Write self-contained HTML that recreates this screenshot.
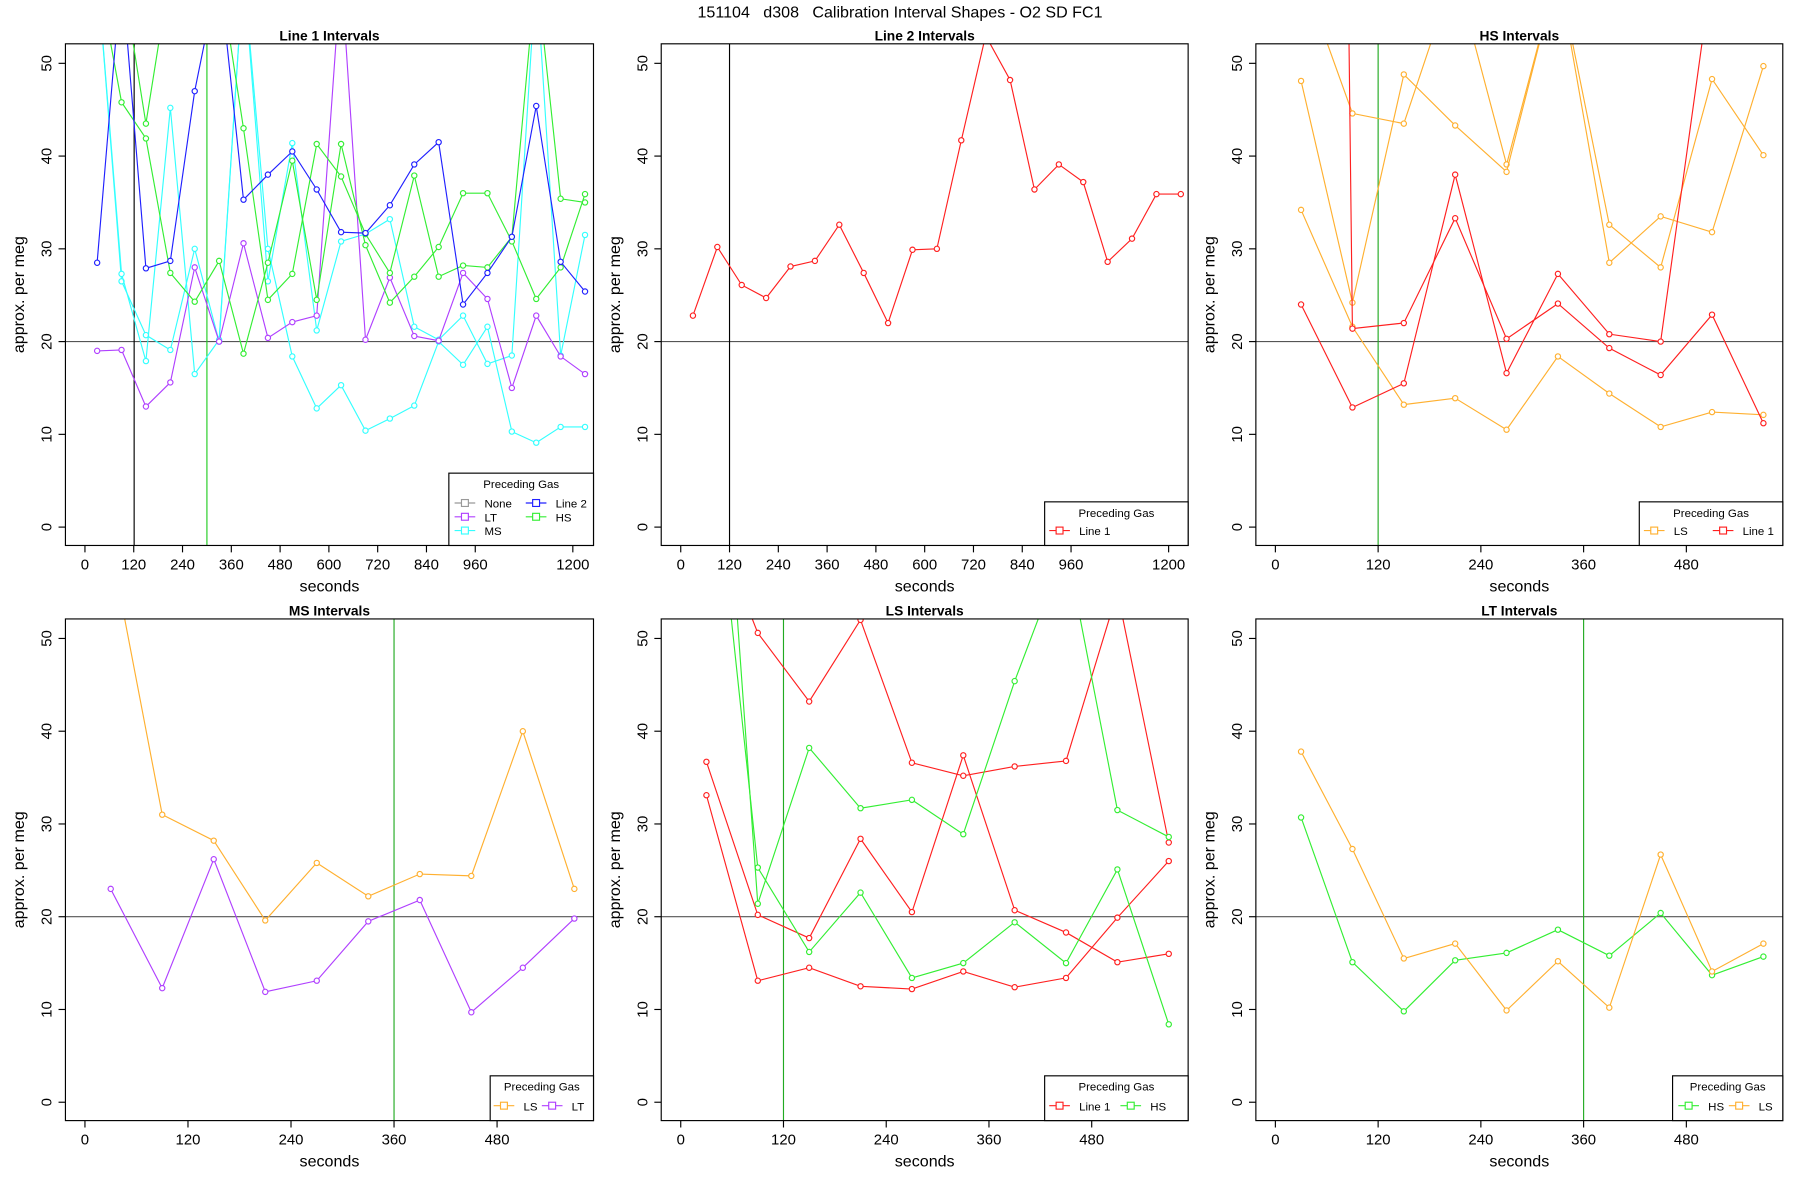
<!DOCTYPE html>
<html><head><meta charset="utf-8"><style>
html,body{margin:0;padding:0;background:#fff}
svg{display:block;font-family:"Liberation Sans",Arial,sans-serif}
</style></head><body>
<svg id="c" width="1800" height="1200" viewBox="0 0 1568 1045" xmlns="http://www.w3.org/2000/svg">
<text x="784" y="15" text-anchor="middle" font-size="14" style="white-space:pre" xml:space="preserve">151104   d308   Calibration Interval Shapes - O2 SD FC1</text>
</svg>
<script>
const C={red:'#ff2020',green:'#33ee33',blue:'#2020ff',purple:'#b040ff',cyan:'#33ffff',orange:'#ffb030',gray:'#999'};
const yTicks=[0,10,20,30,40,50];
const xTicksLong=[0,120,240,360,480,600,720,840,960,1200];
const xTicksShort=[0,120,240,360,480];
const t21=[30,90,150,210,270,330,390,450,510,570,630,690,750,810,870,930,990,1050,1110,1170,1230];
const t10=[30,90,150,210,270,330,390,450,510,570];
// Panel 1 series
const p1Blue=[28.5,60,27.9,28.7,47,60,35.3,38,40.5,36.4,31.8,31.7,34.7,39.1,41.5,24,27.4,31.3,45.4,28.6,25.4];
const p1Purple=[19,19.1,13,15.6,28,20,30.6,20.4,22.1,22.8,60,20.2,26.9,20.6,20.1,27.4,24.6,15,22.8,18.4,16.5];
const p1CyanA=[60,26.5,20.7,19.1,30,20,60,30,18.4,12.8,15.3,10.4,11.7,13.1,20,17.5,21.6,10.3,9.1,10.8,10.8];
const p1CyanB=[60,27.3,17.9,45.2,16.5,20.2,60,26.5,41.4,21.2,30.8,31.6,33.2,21.6,20.2,22.8,17.6,18.5,60,18.5,31.5];
const p1GreenA=[60,45.8,41.9,27.4,24.3,28.7,18.7,28.5,39.5,24.5,41.3,30.4,24.2,27,30.2,36,36,30.8,24.6,28,35.9];
const p1GreenB=[60,60,43.5,60,60,60,43,24.5,27.3,41.3,37.8,31.6,27.4,37.9,27,28.2,28,31.3,60,35.4,35];
// Panel 2
const p2Red=[22.8,30.2,26.1,24.7,28.1,28.7,32.6,27.4,22,29.9,30,41.7,53,48.2,36.4,39.1,37.2,28.6,31.1,35.9,35.9];
// Panel 3
const p3O1=[60,44.6,43.5,60,39.1,60,32.6,28,48.3,40.1];
const p3O2=[48.1,24.2,48.8,43.3,38.3,60,28.5,33.5,31.8,49.7];
const p3O3=[34.2,21.6,13.2,13.9,10.5,18.4,14.4,10.8,12.4,12.1];
const p3R1=[24,12.9,15.5,38,16.6,27.3,20.8,20,60,60];
const p3R2=[60,21.4,22,33.3,20.3,24.1,19.3,16.4,22.9,11.2];
// Panel 4
const p4Orange=[60,31,28.2,19.6,25.8,22.2,24.6,24.4,40,23];
const p4Purple=[23,12.3,26.2,11.9,13.1,19.5,21.8,9.7,14.5,19.8];
// Panel 5
const p5R1=[36.7,20.2,17.7,28.4,20.5,37.4,20.7,18.3,15.1,16];
const p5R2=[33.1,13.1,14.5,12.5,12.2,14.1,12.4,13.4,19.9,26];
const p5R3=[60,50.6,43.2,52,36.6,35.2,36.2,36.8,55,28];
const p5G1=[60,25.3,16.2,22.6,13.4,15,19.4,15,25.1,8.4];
const p5G2=[60,21.4,38.2,31.7,32.6,28.9,45.4,60,31.5,28.6];
// Panel 6
const p6Green=[30.7,15.1,9.8,15.3,16.1,18.6,15.8,20.4,13.7,15.7];
const p6Orange=[37.8,27.3,15.5,17.1,9.9,15.2,10.2,26.7,14.1,17.1];

const svg=document.getElementById('c');
const NS='http://www.w3.org/2000/svg';
function el(tag,attrs,parent){const e=document.createElementNS(NS,tag);for(const k in attrs)e.setAttribute(k,attrs[k]);(parent||svg).appendChild(e);return e;}

function panel(idx,opt){
  const g=el('g',{});
  
  
  const L=opt.bx0,R=opt.bx1,T=opt.top,B=T+437;
  const y0=T+421,y50=T+17;
  const ys=v=>y0+(y50-y0)*v/50;
  const xs=t=>opt.x0+t*opt.k;
  const cid='clip'+idx;
  const cp=el('clipPath',{id:cid},g);el('rect',{x:L,y:T,width:R-L,height:B-T},cp);
  const tt=el('text',{x:(L+R)/2,y:T-3,'text-anchor':'middle','font-size':12,'font-weight':'bold'},g);tt.textContent=opt.title;
  
  
  yTicks.forEach(v=>{const y=ys(v);el('line',{x1:L,x2:L-6,y1:y,y2:y,stroke:'#000'},g);
    const t=el('text',{x:L-12,y:y,'text-anchor':'middle','font-size':13,transform:`rotate(-90 ${L-12} ${y})`},g);t.textContent=v;
    
    });
  const yl=el('text',{x:L-36,y:(T+B)/2,'text-anchor':'middle','font-size':14,transform:`rotate(-90 ${L-36} ${(T+B)/2})`},g);yl.textContent='approx. per meg';
  
  
  opt.xt.forEach(v=>{const x=xs(v);el('line',{x1:x,x2:x,y1:B,y2:B+6,stroke:'#000'},g);
    const t=el('text',{x:x,y:B+21,'text-anchor':'middle','font-size':13},g);t.textContent=v;
    
    });
  const xl=el('text',{x:(L+R)/2,y:B+40,'text-anchor':'middle','font-size':14},g);xl.textContent='seconds';
  
  
  const pg=el('g',{'clip-path':`url(#${cid})`},g);
  el('line',{x1:L,x2:R,y1:ys(20),y2:ys(20),stroke:'#555'},pg);
  opt.vlines.forEach(v=>{const l=el('line',{x1:xs(v[0]),x2:xs(v[0]),y1:T,y2:B,stroke:v[1]},pg);
    
    });
  opt.series.forEach(s=>{
    const sg=el('g',{},pg);
    
    
    const pts=s.v.map((v,i)=>xs(s.t[i]).toFixed(1)+','+ys(v).toFixed(1)).join(' ');
    el('polyline',{points:pts,fill:'none',stroke:s.c,'stroke-width':1},sg);
    s.v.forEach((v,i)=>{const c=el('circle',{cx:xs(s.t[i]),cy:ys(v),r:2.3,fill:'#fff',stroke:s.c,'stroke-width':1},sg);
      
      });
  });
  el('rect',{x:L,y:T,width:R-L,height:B-T,fill:'none',stroke:'#000'},g);
  const lg=opt.leg;const lgg=el('g',{},g);
  
  
  el('rect',{x:lg.x,y:lg.y,width:R-lg.x,height:B-lg.y,fill:'#fff',stroke:'#000'},lgg);
  const lt=el('text',{x:(lg.x+R)/2,y:lg.y+13,'text-anchor':'middle','font-size':10},lgg);lt.textContent='Preceding Gas';
  lg.items.forEach(it=>{
    const e=el('g',{},lgg);
    
    
    el('line',{x1:it[0]-4,x2:it[0]+14,y1:it[1]-3,y2:it[1]-3,stroke:it[3]},e);
    el('rect',{x:it[0]+2,y:it[1]-6,width:6,height:6,fill:'#fff',stroke:it[3]},e);
    const tx=el('text',{x:it[0]+22,y:it[1]+1,'font-size':10},e);tx.textContent=it[2];
  });
}
const top1=38,top2=539;
panel(1,{name:'line1',title:'Line 1 Intervals',bx0:57,bx1:517,top:top1,x0:74,k:425/1200,xt:xTicksLong,
 vlines:[[121,'#000'],[300,'#22cc22']],
 series:[{name:'ms-a',t:t21,v:p1CyanA,c:C.cyan},{name:'ms-b',t:t21,v:p1CyanB,c:C.cyan},{name:'lt',t:t21,v:p1Purple,c:C.purple},
 {name:'hs-a',t:t21,v:p1GreenA,c:C.green},{name:'hs-b',t:t21,v:p1GreenB,c:C.green},{name:'line2',t:t21,v:p1Blue,c:C.blue}],
 leg:{x:391,y:412,items:[[400,441,'None',C.gray],[462,441,'Line 2',C.blue],[400,453,'LT',C.purple],[462,453,'HS',C.green],[400,465,'MS',C.cyan]]}});
panel(2,{name:'line2',title:'Line 2 Intervals',bx0:576,bx1:1035,top:top1,x0:593,k:425/1200,xt:xTicksLong,
 vlines:[[120,'#000']],series:[{name:'line1',t:t21,v:p2Red,c:C.red}],
 leg:{x:910,y:437,items:[[918,465,'Line 1',C.red]]}});
panel(3,{name:'hs',title:'HS Intervals',bx0:1094,bx1:1553,top:top1,x0:1111,k:358/480,xt:xTicksShort,
 vlines:[[120,'#22aa22']],
 series:[{name:'ls-1',t:t10,v:p3O1,c:C.orange},{name:'ls-2',t:t10,v:p3O2,c:C.orange},{name:'ls-3',t:t10,v:p3O3,c:C.orange},
 {name:'line1-1',t:t10,v:p3R1,c:C.red},{name:'line1-2',t:[85,90,150,210,270,330,390,450,510,570],v:p3R2,c:C.red}],
 leg:{x:1428,y:437,items:[[1436,465,'LS',C.orange],[1496,465,'Line 1',C.red]]}});
panel(4,{name:'ms',title:'MS Intervals',bx0:57,bx1:517,top:top2,x0:74,k:359/480,xt:xTicksShort,
 vlines:[[360,'#22aa22']],
 series:[{name:'ls',t:t10,v:p4Orange,c:C.orange},{name:'lt',t:t10,v:p4Purple,c:C.purple}],
 leg:{x:427,y:937,items:[[434,966,'LS',C.orange],[476,966,'LT',C.purple]]}});
panel(5,{name:'ls',title:'LS Intervals',bx0:576,bx1:1035,top:top2,x0:593,k:358/480,xt:xTicksShort,
 vlines:[[120,'#22aa22']],
 series:[{name:'line1-1',t:t10,v:p5R1,c:C.red},{name:'line1-2',t:t10,v:p5R2,c:C.red},{name:'line1-3',t:[50,90,150,210,270,330,390,450,510,570],v:p5R3,c:C.red},
 {name:'hs-1',t:[50,90,150,210,270,330,390,450,510,570],v:p5G1,c:C.green},{name:'hs-2',t:[60,90,150,210,270,330,390,450,510,570],v:p5G2,c:C.green}],
 leg:{x:910,y:937,items:[[918,966,'Line 1',C.red],[980,966,'HS',C.green]]}});
panel(6,{name:'lt',title:'LT Intervals',bx0:1094,bx1:1553,top:top2,x0:1111,k:358/480,xt:xTicksShort,
 vlines:[[360,'#22aa22']],
 series:[{name:'hs',t:t10,v:p6Green,c:C.green},{name:'ls',t:t10,v:p6Orange,c:C.orange}],
 leg:{x:1457,y:937,items:[[1466,966,'HS',C.green],[1510,966,'LS',C.orange]]}});
</script>
</body></html>
